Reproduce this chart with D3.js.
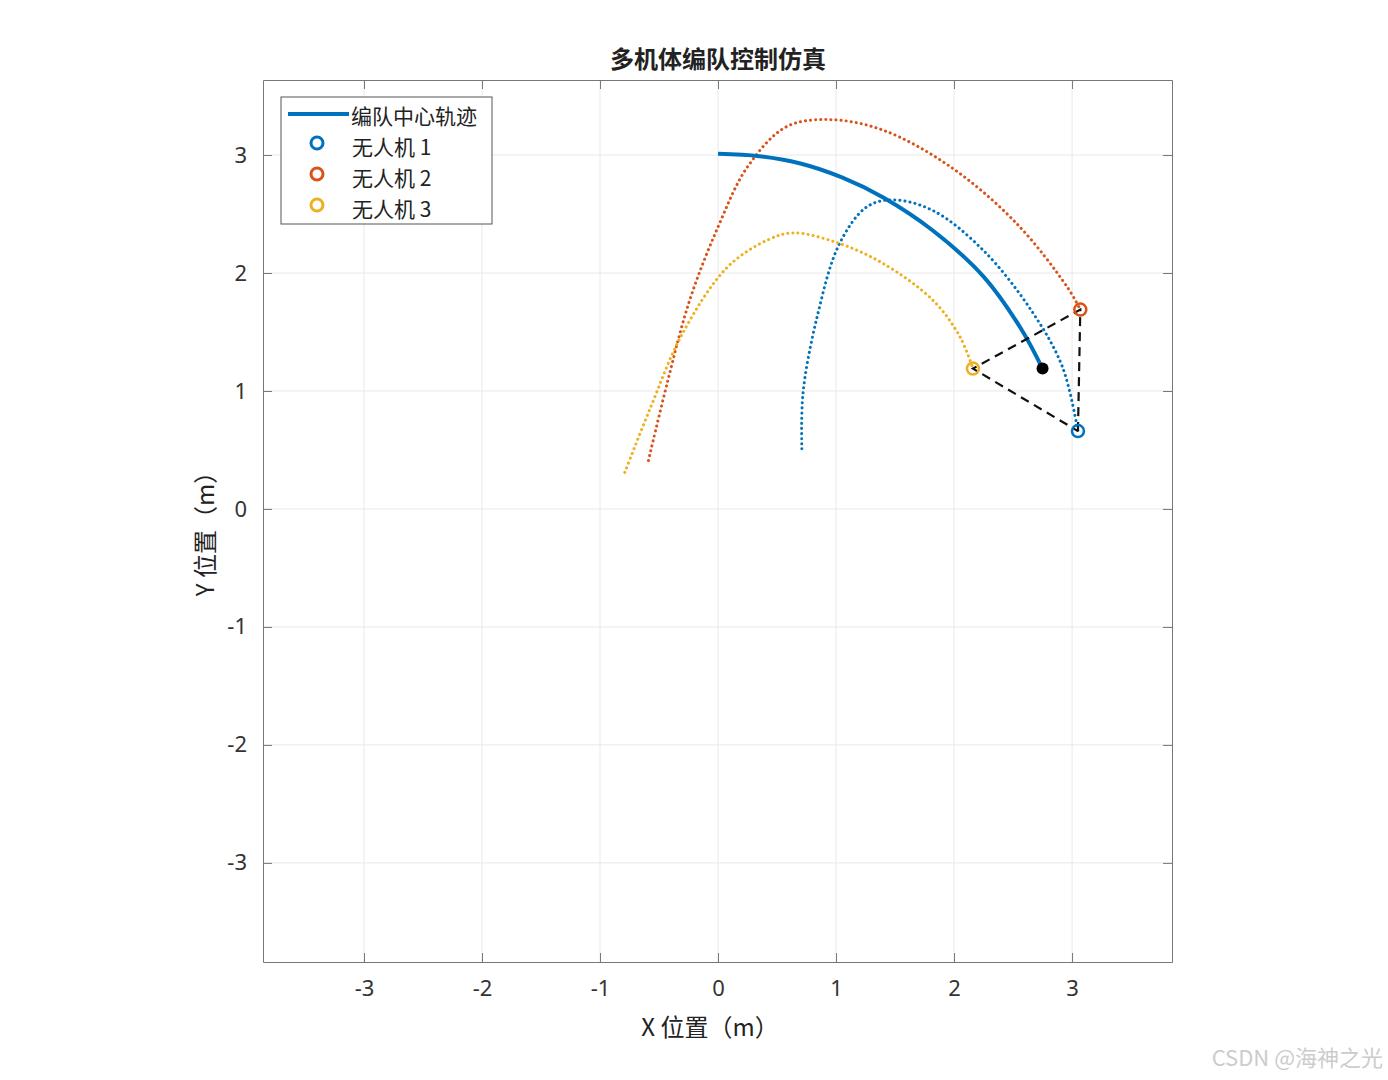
<!DOCTYPE html>
<html><head><meta charset="utf-8">
<script src="https://cdn.jsdelivr.net/npm/d3@7"></script>
<style>body{margin:0;background:#fff}svg{font-family:"Noto Sans CJK SC","Noto Sans",sans-serif}</style>
</head><body><svg id="c" width="1388" height="1080"></svg>
<script>
// chart data (metres)
var centerPath = [[0,3.01],[0.35,2.99],[0.69,2.93],[1.05,2.81],[1.40,2.64],[1.82,2.36],[2.25,1.97],[2.56,1.54],[2.75,1.19]];
var uav1Path = [[0.71,0.51],[0.72,0.98],[0.84,1.63],[1.03,2.25],[1.26,2.56],[1.48,2.62],[1.82,2.53],[2.25,2.19],[2.67,1.66],[2.92,1.20],[3.05,0.66]];
var uav2Path = [[-0.59,0.41],[-0.43,1.07],[-0.24,1.77],[0,2.39],[0.25,2.90],[0.58,3.24],[0.95,3.30],[1.40,3.21],[1.97,2.90],[2.53,2.42],[2.96,1.88],[3.07,1.69]];
var uav3Path = [[-0.79,0.31],[-0.58,0.84],[-0.30,1.49],[0.08,2.05],[0.42,2.28],[0.64,2.34],[1.03,2.25],[1.40,2.08],[1.82,1.77],[2.05,1.46],[2.16,1.19]];
var ticks = [-3,-2,-1,0,1,2,3];
var legendLabels = ['编队中心轨迹','无人机 1','无人机 2','无人机 3'];
var colors = ['#0072BD','#D95319','#EDB120'];

var svg = d3.select('#c');
var padL = 263, padR = 1172, padT = 80, padB = 962;
var x = d3.scaleLinear().domain([-3.856, 3.847]).range([padL, padR]);
var y = d3.scaleLinear().domain([-3.84, 3.636]).range([padB, padT]);

// grid
svg.append('g').selectAll('line').data(ticks).enter().append('line')
    .attr('x1', d => x(d)).attr('x2', d => x(d)).attr('y1', padT).attr('y2', padB)
    .attr('stroke', '#e8e8e8');
svg.append('g').selectAll('line').data(ticks).enter().append('line')
    .attr('y1', d => y(d)).attr('y2', d => y(d)).attr('x1', padL).attr('x2', padR)
    .attr('stroke', '#e8e8e8');

// axes
var fmt = d => String(d);
svg.append('g').attr('transform', 'translate(0,' + padB + ')')
    .call(d3.axisBottom(x).tickValues(ticks).tickFormat(fmt).tickSizeInner(-9).tickSizeOuter(0).tickPadding(18));
svg.append('g').attr('transform', 'translate(' + padL + ',0)')
    .call(d3.axisLeft(y).tickValues(ticks).tickFormat(fmt).tickSizeInner(-9).tickSizeOuter(0).tickPadding(16));
svg.append('g').attr('transform', 'translate(0,' + padT + ')')
    .call(d3.axisTop(x).tickValues(ticks).tickSizeInner(-9).tickSizeOuter(0).tickFormat(''));
svg.append('g').attr('transform', 'translate(' + padR + ',0)')
    .call(d3.axisRight(y).tickValues(ticks).tickSizeInner(-9).tickSizeOuter(0).tickFormat(''));
svg.selectAll('.domain').attr('stroke', '#777');
svg.selectAll('.tick line').attr('stroke', '#777');
svg.selectAll('.tick text').attr('font-size', 22).attr('fill', '#333').attr('font-family', '"Noto Sans","Noto Sans CJK SC",sans-serif');

svg.append('text').attr('x', 718).attr('y', 68).attr('text-anchor', 'middle')
    .attr('font-size', 24).attr('font-weight', 'bold').attr('fill', '#222').text('多机体编队控制仿真');
svg.append('text').attr('x', 710).attr('y', 1036).attr('text-anchor', 'middle')
    .attr('font-size', 24).attr('fill', '#222').text('X 位置（m）');
svg.append('text').attr('transform', 'translate(214,528) rotate(-90)').attr('text-anchor', 'middle')
    .attr('font-size', 24).attr('fill', '#222').text('Y 位置（m）');

var line = d3.line().x(d => x(d[0])).y(d => y(d[1])).curve(d3.curveCatmullRom);
var plot = svg.append('g');

[uav1Path, uav2Path, uav3Path].forEach(function(p, i) {
    plot.append('path').attr('d', line(p)).attr('fill', 'none')
        .attr('stroke', colors[i]).attr('stroke-width', 3)
        .attr('stroke-dasharray', '0.1,5').attr('stroke-linecap', 'round');
});
plot.append('path').attr('d', line(centerPath)).attr('fill', 'none')
    .attr('stroke', colors[0]).attr('stroke-width', 4);

// formation triangle
var ends = [uav1Path, uav2Path, uav3Path].map(p => p[p.length - 1]);
plot.append('path').attr('d', d3.line().x(d => x(d[0])).y(d => y(d[1]))(ends.concat([ends[0]])))
    .attr('fill', 'none').attr('stroke', '#111').attr('stroke-width', 2.2).attr('stroke-dasharray', '9,6');
var c = centerPath[centerPath.length - 1];
plot.append('circle').attr('cx', x(c[0])).attr('cy', y(c[1])).attr('r', 6).attr('fill', '#000');
ends.forEach(function(e, i) {
    plot.append('circle').attr('cx', x(e[0])).attr('cy', y(e[1])).attr('r', 6)
        .attr('fill', 'none').attr('stroke', colors[i]).attr('stroke-width', 2.5);
});

// legend
var lg = svg.append('g').attr('transform', 'translate(281,97)');
lg.append('rect').attr('width', 211).attr('height', 127).attr('fill', '#fff').attr('stroke', '#555');
lg.append('line').attr('x1', 7).attr('x2', 68).attr('y1', 17).attr('y2', 17).attr('stroke', colors[0]).attr('stroke-width', 4);
legendLabels.forEach(function(t, i) {
    lg.append('text').attr('x', i === 0 ? 70 : 71).attr('y', 27 + i * 31).attr('font-size', 21).attr('fill', '#222').text(t);
    if (i > 0) lg.append('circle').attr('cx', 36).attr('cy', 17 + i * 31 - 2).attr('r', 6)
        .attr('fill', 'none').attr('stroke', colors[i - 1]).attr('stroke-width', 3);
});

svg.append('text').attr('x', 1383).attr('y', 1066).attr('text-anchor', 'end')
    .attr('font-size', 22).attr('fill', '#ccc').text('CSDN @海神之光');
</script></body></html>
